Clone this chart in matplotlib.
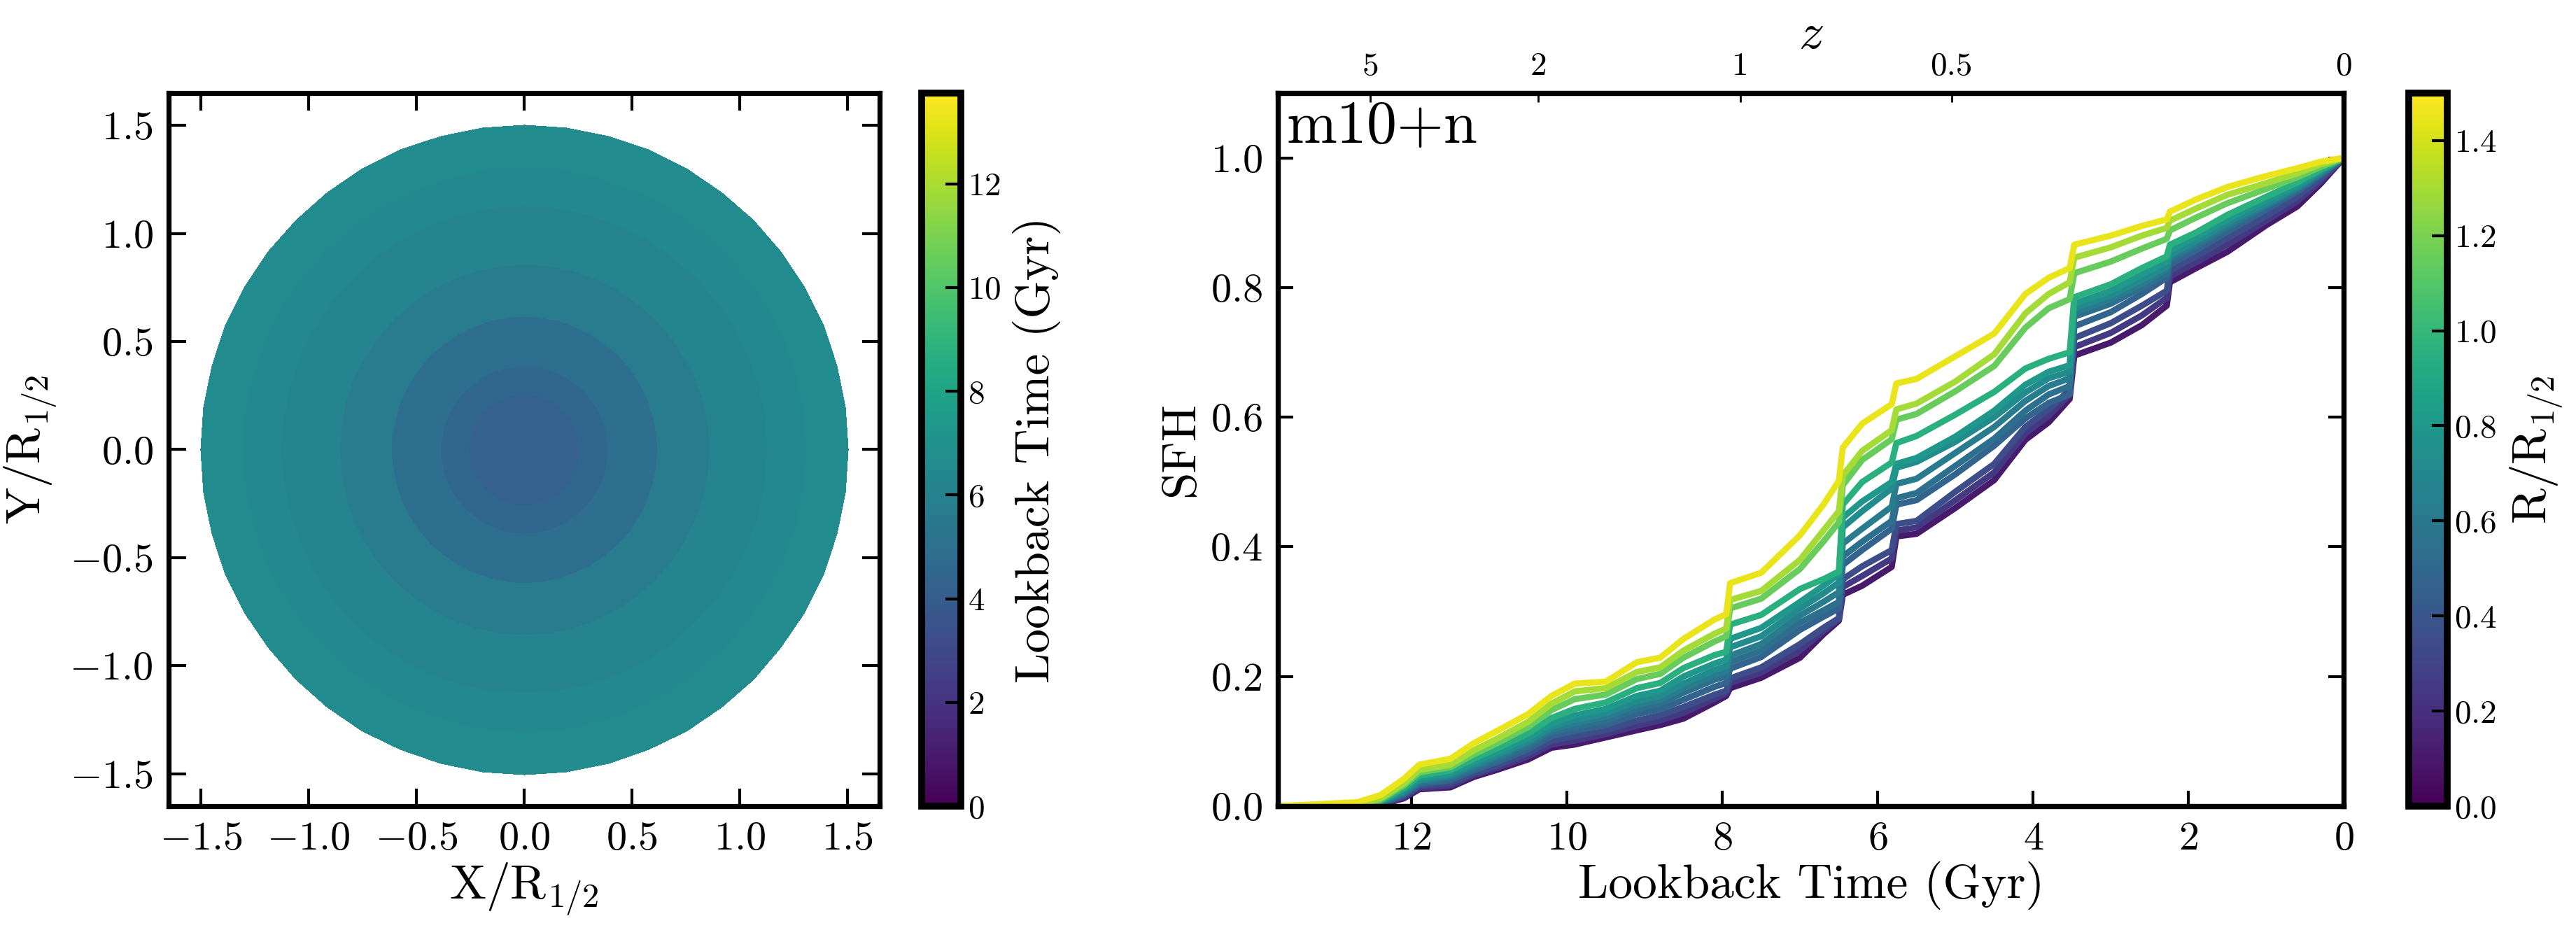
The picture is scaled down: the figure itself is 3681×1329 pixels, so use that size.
import numpy as np
import matplotlib
matplotlib.use("Agg")
import matplotlib.pyplot as plt
from matplotlib.colors import Normalize
from matplotlib.cm import ScalarMappable

plt.rcParams.update({
    "font.family": "serif", "font.serif": ["cmr10"],
    "mathtext.fontset": "cm", "axes.formatter.use_mathtext": True,
    "axes.linewidth": 2.6, "xtick.direction": "in", "ytick.direction": "in",
    "xtick.major.size": 8, "ytick.major.size": 8,
    "xtick.major.width": 1.5, "ytick.major.width": 1.5,
})

# ---- data: left panel, mean stellar age in radial rings --------------------
ring_edges = [0.0, 0.26, 0.39, 0.62, 0.86, 1.13, 1.31, 1.50]     # R/R_1/2
ring_age = [4.2, 4.5, 4.9, 5.7, 6.2, 6.45, 6.6]                  # Gyr
age_max = 13.75

# ---- data: right panel, cumulative SFH per radial bin ----------------------
t_lb = [13.7, 12.7, 12.4, 12.1, 11.9, 11.5, 11.2, 10.9, 10.5, 10.2, 9.9, 9.5,
        9.1, 8.8, 8.5, 8.1, 7.95, 7.9, 7.5, 7.0, 6.7, 6.5, 6.45, 6.2, 5.82,
        5.76, 5.5, 5.0, 4.5, 4.1, 3.8, 3.53, 3.47, 3.0, 2.6, 2.28, 2.24, 1.9,
        1.5, 1.0, 0.6, 0.3, 0.0]
r_bins = [1.45, 1.3, 1.15, 0.95, 0.8, 0.72, 0.62, 0.55, 0.48, 0.35, 0.25, 0.1]
sfh_r145 = [0.0, 0.006, 0.017, 0.042, 0.064, 0.073, 0.097, 0.116, 0.142, 0.170, 0.189, 0.192,
            0.222, 0.229, 0.258, 0.288, 0.296, 0.344, 0.360, 0.418, 0.465, 0.502, 0.553, 0.590, 0.620,
            0.652, 0.659, 0.694, 0.729, 0.790, 0.815, 0.830, 0.866, 0.880, 0.895, 0.905, 0.917, 0.936,
            0.955, 0.972, 0.984, 0.994, 1.0]
sfh_r130 = [0.0, 0.003, 0.012, 0.035, 0.056, 0.064, 0.086, 0.104, 0.130, 0.158, 0.177, 0.182,
            0.207, 0.214, 0.240, 0.266, 0.274, 0.318, 0.332, 0.380, 0.425, 0.455, 0.510, 0.548, 0.580,
            0.612, 0.621, 0.655, 0.697, 0.760, 0.790, 0.808, 0.846, 0.862, 0.880, 0.892, 0.903, 0.922,
            0.943, 0.961, 0.976, 0.990, 1.0]
sfh_r115 = [0.0, 0.002, 0.010, 0.032, 0.052, 0.060, 0.080, 0.097, 0.122, 0.148, 0.165, 0.172,
            0.196, 0.204, 0.229, 0.254, 0.262, 0.305, 0.320, 0.366, 0.408, 0.438, 0.495, 0.534, 0.566,
            0.596, 0.605, 0.640, 0.679, 0.738, 0.768, 0.782, 0.822, 0.840, 0.860, 0.875, 0.888, 0.908,
            0.930, 0.952, 0.970, 0.986, 1.0]
sfh_r095 = [0.0, 0.001, 0.008, 0.028, 0.047, 0.055, 0.073, 0.089, 0.112, 0.136, 0.150, 0.160,
            0.182, 0.190, 0.213, 0.233, 0.238, 0.280, 0.295, 0.335, 0.350, 0.362, 0.465, 0.500, 0.530,
            0.560, 0.571, 0.604, 0.639, 0.675, 0.690, 0.700, 0.785, 0.805, 0.830, 0.848, 0.866, 0.885,
            0.912, 0.940, 0.962, 0.982, 1.0]
sfh_r080 = [0.0, 0.001, 0.007, 0.025, 0.043, 0.051, 0.068, 0.083, 0.105, 0.127, 0.140, 0.150,
            0.170, 0.178, 0.200, 0.220, 0.226, 0.258, 0.275, 0.315, 0.340, 0.358, 0.445, 0.470, 0.500,
            0.528, 0.537, 0.570, 0.610, 0.650, 0.670, 0.680, 0.775, 0.795, 0.820, 0.840, 0.857, 0.878,
            0.905, 0.935, 0.958, 0.980, 1.0]
sfh_r072 = [0.0, 0.001, 0.006, 0.023, 0.040, 0.048, 0.064, 0.079, 0.100, 0.122, 0.133, 0.143,
            0.162, 0.170, 0.189, 0.210, 0.216, 0.245, 0.262, 0.305, 0.328, 0.345, 0.430, 0.455, 0.490,
            0.522, 0.531, 0.562, 0.600, 0.638, 0.660, 0.670, 0.768, 0.788, 0.812, 0.832, 0.850, 0.872,
            0.900, 0.930, 0.955, 0.978, 1.0]
sfh_r062 = [0.0, 0.0, 0.005, 0.021, 0.038, 0.046, 0.061, 0.076, 0.097, 0.118, 0.128, 0.138,
            0.156, 0.164, 0.182, 0.202, 0.208, 0.232, 0.250, 0.294, 0.315, 0.330, 0.405, 0.428, 0.462,
            0.497, 0.505, 0.545, 0.585, 0.625, 0.648, 0.660, 0.762, 0.782, 0.806, 0.828, 0.846, 0.868,
            0.896, 0.927, 0.953, 0.976, 1.0]
sfh_r055 = [0.0, 0.0, 0.005, 0.020, 0.036, 0.043, 0.058, 0.072, 0.093, 0.114, 0.122, 0.132,
            0.150, 0.158, 0.175, 0.195, 0.200, 0.222, 0.240, 0.283, 0.302, 0.315, 0.385, 0.408, 0.440,
            0.475, 0.483, 0.525, 0.567, 0.610, 0.635, 0.648, 0.755, 0.775, 0.800, 0.822, 0.842, 0.864,
            0.892, 0.925, 0.951, 0.975, 1.0]
sfh_r048 = [0.0, 0.0, 0.004, 0.018, 0.034, 0.040, 0.055, 0.068, 0.088, 0.108, 0.116, 0.125,
            0.142, 0.149, 0.164, 0.184, 0.190, 0.212, 0.230, 0.272, 0.292, 0.305, 0.372, 0.395, 0.428,
            0.465, 0.472, 0.512, 0.556, 0.598, 0.622, 0.635, 0.740, 0.762, 0.790, 0.815, 0.835, 0.858,
            0.886, 0.920, 0.948, 0.973, 1.0]
sfh_r035 = [0.0, 0.0, 0.003, 0.016, 0.031, 0.036, 0.051, 0.063, 0.082, 0.101, 0.108, 0.117,
            0.132, 0.140, 0.153, 0.172, 0.178, 0.197, 0.214, 0.250, 0.275, 0.290, 0.350, 0.370, 0.395,
            0.435, 0.440, 0.485, 0.528, 0.585, 0.612, 0.642, 0.722, 0.745, 0.772, 0.795, 0.826, 0.848,
            0.876, 0.910, 0.940, 0.968, 1.0]
sfh_r025 = [0.0, 0.0, 0.002, 0.014, 0.028, 0.032, 0.048, 0.059, 0.077, 0.095, 0.101, 0.111,
            0.124, 0.132, 0.144, 0.166, 0.174, 0.190, 0.206, 0.240, 0.270, 0.288, 0.338, 0.355, 0.382,
            0.425, 0.430, 0.472, 0.515, 0.575, 0.602, 0.635, 0.708, 0.730, 0.757, 0.784, 0.817, 0.839,
            0.866, 0.903, 0.933, 0.964, 1.0]
sfh_r010 = [0.0, 0.0, 0.002, 0.012, 0.026, 0.029, 0.045, 0.056, 0.072, 0.090, 0.095, 0.106,
            0.117, 0.125, 0.135, 0.160, 0.170, 0.182, 0.198, 0.229, 0.265, 0.286, 0.326, 0.340, 0.369,
            0.416, 0.420, 0.460, 0.503, 0.565, 0.592, 0.628, 0.695, 0.715, 0.742, 0.772, 0.808, 0.830,
            0.855, 0.896, 0.925, 0.960, 1.0]
sfh_curves = [sfh_r145, sfh_r130, sfh_r115, sfh_r095, sfh_r080, sfh_r072,
              sfh_r062, sfh_r055, sfh_r048, sfh_r035, sfh_r025, sfh_r010]

# redshift ticks on the top axis and where they sit in lookback time
z_labels = ["5", "2", "1", "0.5", "0"]
z_lookback = [12.53, 10.37, 7.77, 5.05, 0.0]
t_max = 13.72

fig = plt.figure(figsize=(18.405, 6.645), dpi=200)

# ---- left: age map ----------------------------------------------------------
axL = fig.add_axes([0.0655, 0.1332, 0.276, 0.7668])
theta = np.linspace(0, 2 * np.pi, 49)
rr, tt = np.meshgrid(ring_edges, theta)
C = np.tile(ring_age, (len(theta) - 1, 1))
norm_age = Normalize(0, age_max)
mesh = axL.pcolormesh(rr * np.cos(tt), rr * np.sin(tt), C, cmap="viridis",
                      norm=norm_age, shading="flat", edgecolors="face", linewidth=0.4)
axL.set_xlim(-1.65, 1.65); axL.set_ylim(-1.65, 1.65)
axL.set_xticks([-1.5, -1.0, -0.5, 0.0, 0.5, 1.0, 1.5])
axL.set_yticks([-1.5, -1.0, -0.5, 0.0, 0.5, 1.0, 1.5])
axL.tick_params(top=True, right=True, labelsize=21, length=9, pad=8)
axL.set_xlabel(r"$\mathrm{X/R_{1/2}}$", fontsize=25, labelpad=2)
axL.set_ylabel(r"$\mathrm{Y/R_{1/2}}$", fontsize=25, labelpad=6)

caxL = fig.add_axes([0.3578, 0.1332, 0.0152, 0.7668])
cbL = fig.colorbar(ScalarMappable(norm=norm_age, cmap="viridis"), cax=caxL)
cbL.set_ticks([0, 2, 4, 6, 8, 10, 12])
cbL.ax.tick_params(labelsize=17, length=8, width=1.5, direction="in")
cbL.outline.set_linewidth(3.5)
cbL.set_label("Lookback Time (Gyr)", fontsize=25, labelpad=6)

# ---- right: cumulative SFH -----------------------------------------------------
axR = fig.add_axes([0.4961, 0.1332, 0.4138, 0.7668])
norm_r = Normalize(0, 1.5)
cmap = plt.get_cmap("viridis")
for R, sfh in zip(r_bins[::-1], sfh_curves[::-1]):
    axR.plot(t_lb, sfh, color=cmap(norm_r(R)), lw=3.2, solid_joinstyle="round")
axR.set_xlim(t_max, 0); axR.set_ylim(0, 1.1)
axR.set_xticks([12, 10, 8, 6, 4, 2, 0])
axR.set_yticks([0.0, 0.2, 0.4, 0.6, 0.8, 1.0])
axR.tick_params(right=True, top=False, labelsize=21, length=8, pad=8)
axR.set_xlabel("Lookback Time (Gyr)", fontsize=25, labelpad=2)
axR.set_ylabel("SFH", fontsize=25, labelpad=4)
axR.text(0.008, 0.99, "m10+n", transform=axR.transAxes, fontsize=31,
         ha="left", va="top")

axZ = axR.twiny()
axZ.set_xlim(axR.get_xlim())
axZ.set_xticks(z_lookback)
axZ.set_xticklabels(z_labels)
axZ.tick_params(labelsize=17, length=4.5, width=1.0, direction="in", pad=6)
axZ.set_xlabel(r"$z$", fontsize=26, labelpad=2)

caxR = fig.add_axes([0.9351, 0.1332, 0.0149, 0.7668])
cbR = fig.colorbar(ScalarMappable(norm=norm_r, cmap=cmap), cax=caxR)
cbR.set_ticks([0.0, 0.2, 0.4, 0.6, 0.8, 1.0, 1.2, 1.4])
cbR.ax.tick_params(labelsize=17, length=8, width=1.5, direction="in")
cbR.outline.set_linewidth(3.5)
cbR.set_label(r"$\mathrm{R/R_{1/2}}$", fontsize=25, labelpad=6)

fig.savefig("out.png", dpi=200)
